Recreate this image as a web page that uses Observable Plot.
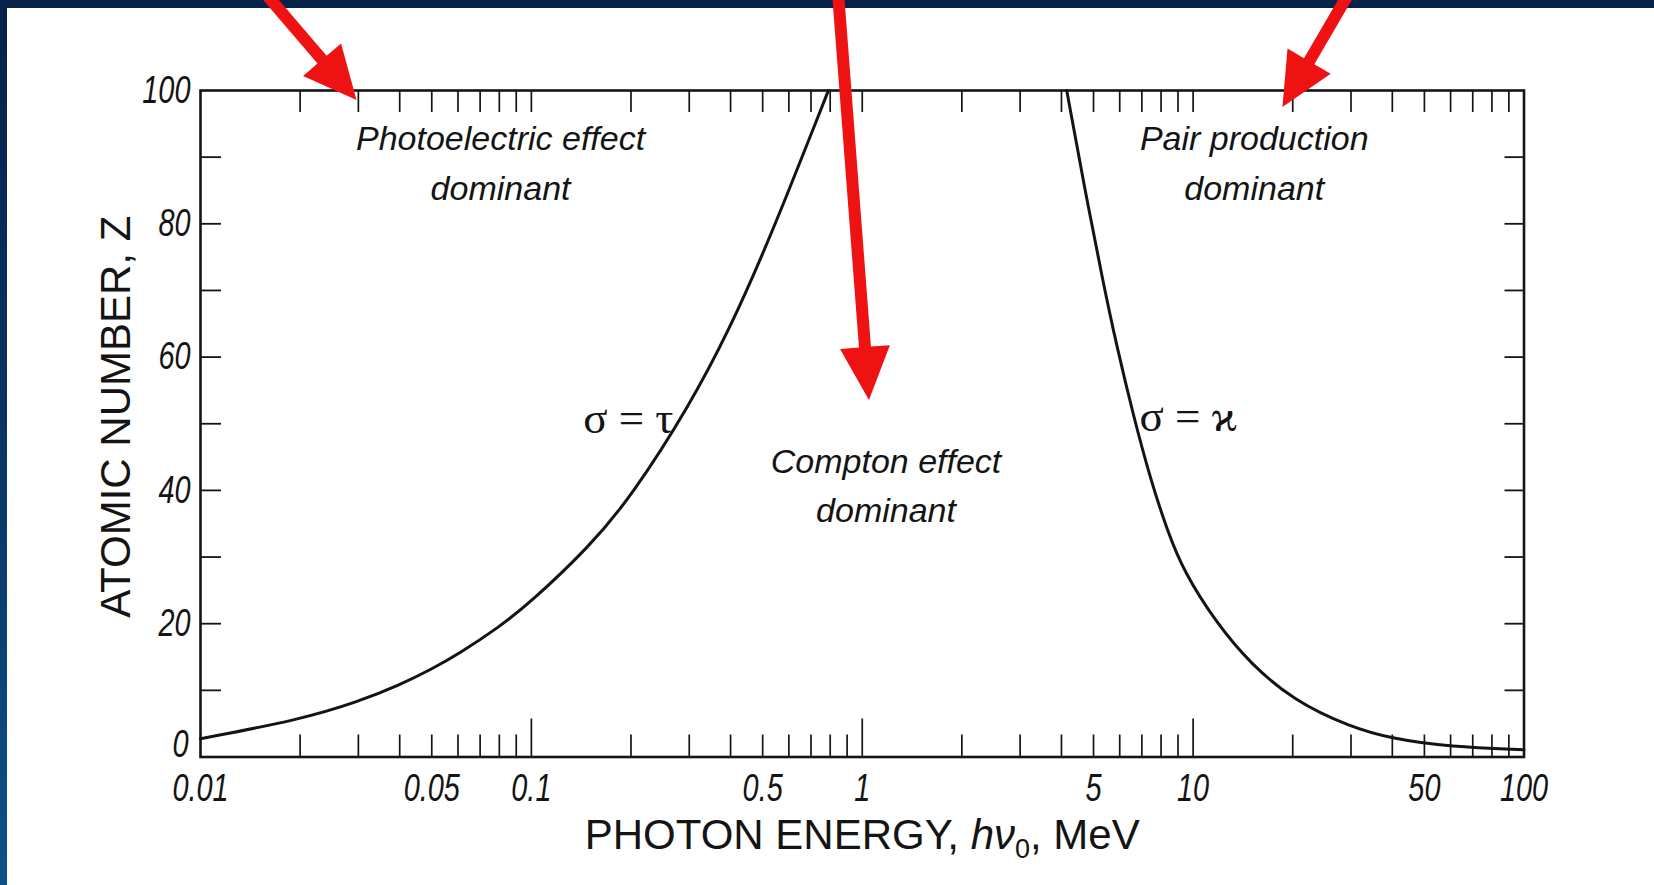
<!DOCTYPE html>
<html>
<head>
<meta charset="utf-8">
<script src="https://cdn.jsdelivr.net/npm/d3@7"></script>
<script src="https://cdn.jsdelivr.net/npm/@observablehq/plot@0.6"></script>
<style>
  html, body { margin: 0; padding: 0; width: 1654px; height: 885px; overflow: hidden;
    background: linear-gradient(180deg, #06214a 0%, #0a3766 55%, #0d5288 100%); }
  #panel { position: absolute; left: 7px; top: 8px; right: 0; bottom: 0; background: #ffffff; }
  #chart { position: absolute; left: 0; top: 0; }
</style>
</head>
<body>
<div id="panel"></div>
<div id="chart"></div>
<script>
// ---- Data ----
// Curve where photoelectric = Compton (sigma = tau)
const photoE = [0.01, 0.02, 0.03, 0.04, 0.05, 0.06, 0.08, 0.1, 0.15, 0.2, 0.3, 0.4, 0.5, 0.6, 0.7, 0.79];
const photoZ = [2.75, 5.6, 8.3, 10.8, 13.2, 15.4, 19.5, 23.3, 31.6, 39.0, 52.6, 64.5, 75.4, 85.0, 93.4, 100];
// Curve where pair production = Compton (sigma = kappa)
const pairE = [4.15, 4.66, 5.36, 5.88, 6.6, 7.43, 8.35, 9.37, 11.8, 14.9, 20.1, 29.8, 40.3, 59.7, 100];
const pairZ = [100, 86.3, 70.9, 61.6, 51.2, 41.7, 34.0, 27.8, 20.0, 14.0, 8.5, 4.5, 2.7, 1.5, 1.1];

// Axis ticks and labels
const xMinorTicks = [0.02,0.03,0.04,0.05,0.06,0.07,0.08,0.09, 0.2,0.3,0.4,0.5,0.6,0.7,0.8,0.9,
                     2,3,4,5,6,7,8,9, 20,30,40,50,60,70,80,90];
const xMajorTicks = [0.1, 1, 10];
const xLabelValues = [0.01, 0.05, 0.1, 0.5, 1, 5, 10, 50, 100];
const xLabelText = ["0.01", "0.05", "0.1", "0.5", "1", "5", "10", "50", "100"];
const yTicks = [10, 20, 30, 40, 50, 60, 70, 80, 90];
const yLabelValues = [0, 20, 40, 60, 80, 100];
const xTitle = "PHOTON ENERGY, hν0, MeV";
const yTitle = "ATOMIC NUMBER, Z";

// Region annotations
const regionText = ["Photoelectric effect\ndominant", "Compton effect\ndominant", "Pair production\ndominant"];
const regionE = [0.0807, 1.18, 15.3];
const regionZ = [89.7, 41.3, 89.7];

// Boundary labels
const sigmaText = ["σ = τ", "σ = ϰ"];
const sigmaE = [0.2688, 6.88];
const sigmaZ = [50.7, 51.0];

// Red pointer arrows (start -> tip, in data units)
const arrowE0 = [0.01639, 0.851, 28.85];
const arrowZ0 = [113.5, 113.5, 113.5];
const arrowE1 = [0.02972, 1.0515, 18.68];
const arrowZ1 = [98.5, 53.5, 97.45];

// ---- Build tables ----
const photoCurve = photoE.map((e, i) => ({E: e, Z: photoZ[i]}));
const pairCurve = pairE.map((e, i) => ({E: e, Z: pairZ[i]}));
const xLabels = xLabelValues.map((v, i) => ({v, t: xLabelText[i]}));
const regions = regionText.map((t, i) => ({t, E: regionE[i], Z: regionZ[i]}));
const sigmas = sigmaText.map((t, i) => ({t, E: sigmaE[i], Z: sigmaZ[i]}));
const arrows = arrowE0.map((e, i) => ({E0: e, Z0: arrowZ0[i], E1: arrowE1[i], Z1: arrowZ1[i]}));

// ---- Layout ----
const W = 1654, H = 885;
const mL = 200, mR = 130.5, mT = 90, mB = 128.5;
const plotW = W - mL - mR, plotH = H - mT - mB;
const tickFont = "'Liberation Sans', Arial, sans-serif";
const regionFont = "'Liberation Sans', sans-serif";
const titleFont = "Arimo, 'Liberation Sans', sans-serif";
const ink = "#141414";
const red = "#ef1212";

function drawArrows(g, sx, sy) {
  for (const a of arrows) {
    let x0 = sx(a.E0), y0 = sy(a.Z0), x1 = sx(a.E1), y1 = sy(a.Z1);
    const dx = x1 - x0, dy = y1 - y0, len = Math.hypot(dx, dy);
    const ux = dx / len, uy = dy / len, nx = -uy, ny = ux;
    x0 -= ux * 20; y0 -= uy * 20;
    const L = 53, Hh = 25, w = 6;
    const bx = x1 - ux * L, by = y1 - uy * L;
    const pts = [
      [x0 + nx * w, y0 + ny * w], [bx + nx * w, by + ny * w], [bx + nx * Hh, by + ny * Hh],
      [x1, y1],
      [bx - nx * Hh, by - ny * Hh], [bx - nx * w, by - ny * w], [x0 - nx * w, y0 - ny * w]
    ];
    g.append("path").attr("d", "M" + pts.map(p => p.join(",")).join("L") + "Z").attr("fill", red);
  }
}

let arrowsDrawn = false;
const arrowMark = (...args) => {
  const scales = args.find(a => a && typeof a.x === "function" && typeof a.y === "function");
  if (!scales) return null;
  const g = d3.create("svg:g");
  drawArrows(g, scales.x, scales.y);
  arrowsDrawn = true;
  return g.node();
};

const tickTextStyle = {fontSize: 38, fontStyle: "italic", fontFamily: tickFont, fill: ink};

const chart = Plot.plot({
  width: W, height: H,
  marginLeft: mL, marginRight: mR, marginTop: mT, marginBottom: mB,
  style: {background: "transparent", overflow: "visible"},
  x: {type: "log", domain: [0.01, 100], axis: null},
  y: {domain: [0, 100], axis: null},
  marks: [
    // bottom ticks (inward)
    Plot.ruleX(xMinorTicks, {x: d => d, insetTop: plotH - 22, stroke: ink, strokeWidth: 1.7}),
    Plot.ruleX(xMajorTicks, {x: d => d, insetTop: plotH - 38, stroke: ink, strokeWidth: 1.7}),
    // top ticks (inward)
    Plot.ruleX(xMinorTicks.concat(xMajorTicks), {x: d => d, insetBottom: plotH - 22, stroke: ink, strokeWidth: 1.7}),
    // left / right y ticks (inward)
    Plot.ruleY(yTicks, {y: d => d, insetRight: plotW - 21, stroke: ink, strokeWidth: 1.8}),
    Plot.ruleY(yTicks, {y: d => d, insetLeft: plotW - 19, stroke: ink, strokeWidth: 1.8}),
    Plot.frame({stroke: ink, strokeWidth: 2.6}),
    // curves
    Plot.line(photoCurve, {x: "E", y: "Z", curve: "basis", stroke: ink, strokeWidth: 3}),
    Plot.line(pairCurve, {x: "E", y: "Z", curve: "basis", stroke: ink, strokeWidth: 3}),
    // tick labels
    Plot.text(yLabelValues.filter(v => v > 0), {y: d => d, text: d => String(d), frameAnchor: "left",
      textAnchor: "end", lineAnchor: "middle", dx: -10, ...tickTextStyle}),
    Plot.text(yLabelValues.filter(v => v === 0), {y: d => d, text: d => String(d), frameAnchor: "left",
      textAnchor: "end", lineAnchor: "middle", dx: -12, dy: -12, ...tickTextStyle}),
    Plot.text(xLabels, {x: "v", text: "t", frameAnchor: "bottom", textAnchor: "middle", lineAnchor: "middle",
      dy: 32, ...tickTextStyle}),
    // region labels
    Plot.text(regions, {x: "E", y: "Z", text: "t", lineHeight: 1.45,
      fontSize: 34, fontStyle: "italic", fontFamily: regionFont, fill: ink}),
    Plot.text(sigmas.slice(0, 1), {x: "E", y: "Z", text: "t", textAnchor: "end",
      fontSize: 45, fontFamily: "'Liberation Serif', serif", fill: ink}),
    Plot.text(sigmas.slice(1), {x: "E", y: "Z", text: "t", textAnchor: "start",
      fontSize: 45, fontFamily: "'Liberation Serif', serif", fill: ink}),
    // axis titles
    Plot.text([yTitle], {text: d => d, frameAnchor: "left", textAnchor: "middle", lineAnchor: "middle",
      dx: -84, dy: -7, rotate: -90,
      fontSize: 42, fontFamily: titleFont, fill: ink}),
    Plot.text([xTitle], {text: d => d, frameAnchor: "bottom", textAnchor: "middle", lineAnchor: "middle", dy: 79,
      fontSize: 42, fontFamily: titleFont, fill: ink}),
    // red pointer arrows
    arrowMark
  ]
});

document.getElementById("chart").appendChild(chart);

// Fallback: draw arrows with the plot's own scales if the function mark was not supported
if (!arrowsDrawn) {
  const sx = chart.scale("x"), sy = chart.scale("y");
  drawArrows(d3.select(chart).append("g"), v => sx.apply(v), v => sy.apply(v));
}

// Narrow lettering for the tick labels (condense glyphs horizontally)
d3.select(chart).selectAll("g").filter(function() { return this.getAttribute("font-family") === tickFont; })
  .selectAll("text").each(function() {
    const len = this.getComputedTextLength();
    if (len > 0) {
      this.setAttribute("textLength", (len * 0.76).toFixed(1));
      this.setAttribute("lengthAdjust", "spacingAndGlyphs");
    }
  });

// Rich formatting of the x-axis title: italic h-nu with subscript zero
d3.select(chart).selectAll("text").filter(function() { return this.textContent === xTitle; })
  .each(function() {
    const t = d3.select(this);
    t.text(null);
    t.append("tspan").text("PHOTON ENERGY, ");
    t.append("tspan").attr("font-style", "italic").text("hν");
    t.append("tspan").attr("font-size", 27).attr("dy", 9).text("0");
    t.append("tspan").attr("dy", -9).text(", MeV");
  });
</script>
</body>
</html>
